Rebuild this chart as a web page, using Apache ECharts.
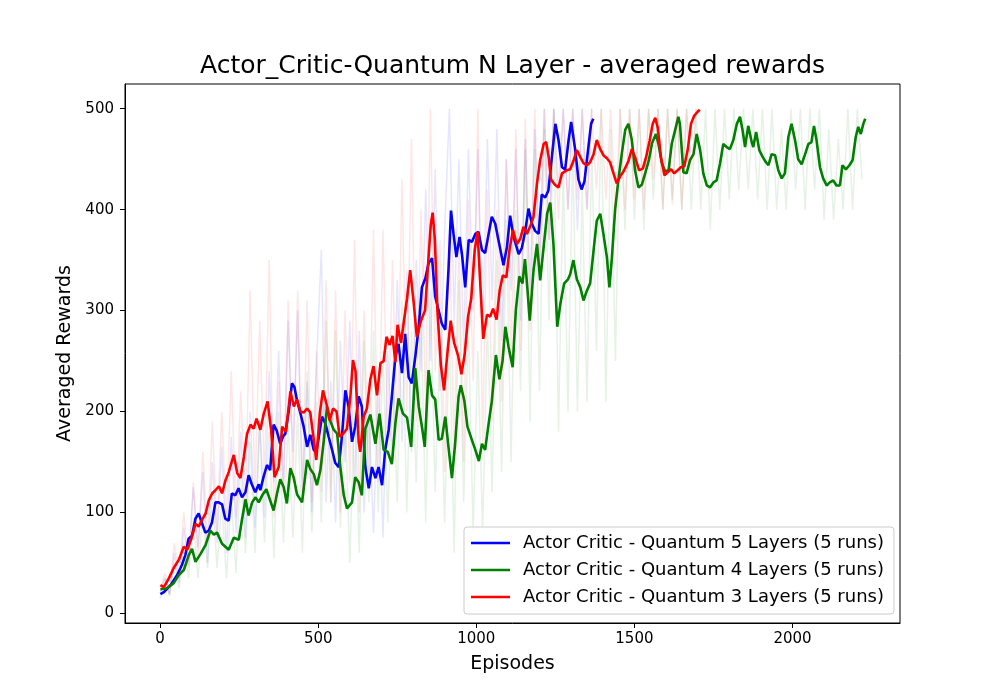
<!DOCTYPE html>
<html>
<head>
<meta charset="utf-8">
<title>Actor_Critic-Quantum N Layer - averaged rewards</title>
<script src="https://cdn.jsdelivr.net/npm/echarts@6/dist/echarts.min.js"></script>
<style>
  html, body { margin: 0; padding: 0; background: #fff; }
  #main { width: 1000px; height: 700px; }
</style>
</head>
<body>
<div id="main"></div>
<script>
// series names (legend)
var names = [
	'Actor Critic - Quantum 5 Layers (5 runs)',
	'Actor Critic - Quantum 4 Layers (5 runs)',
	'Actor Critic - Quantum 3 Layers (5 runs)'
];

var xTicks = [0, 500, 1000, 1500, 2000];
var yTicks = [0, 100, 200, 300, 400, 500];

// smoothed rewards, [episode, reward]
var blueMain = [
	[1,19],[12,21],[33,28],[54,38],[69,48],[80,58],[90,74],[101,77],[112,94],[122,99],[133,89],[143,80],
	[154,82],[164,90],[175,110],[185,110],[196,108],[206,94],[217,92],[227,119],[238,117],[248,124],[259,115],
	[270,120],[280,137],[290,128],[301,120],[312,128],[317,122],[327,135],[338,147],[348,142],[359,187],[369,181],
	[380,168],[390,176],[396,178],[407,201],[417,228],[425,224],[433,211],[444,198],[454,185],[465,165],[475,177],
	[486,162],[494,160],[502,175],[512,195],[523,188],[533,175],[544,162],[554,149],[565,145],[575,175],[586,221],
	[596,205],[607,170],[617,185],[628,215],[638,205],[649,145],[660,124],[670,145],[681,134],[691,145],[702,127],
	[712,162],[723,182],[733,215],[744,254],[754,267],[765,238],[775,277],[786,234],[796,228],[807,254],[818,284],
	[828,323],[839,332],[849,347],[860,352],[870,314],[881,300],[891,287],[902,281],[912,340],[920,399],[928,376],
	[937,353],[947,373],[955,355],[965,323],[976,370],[986,368],[997,376],[1007,378],[1018,360],[1028,357],[1039,376],
	[1049,393],[1060,386],[1070,370],[1086,345],[1097,363],[1107,394],[1118,373],[1134,356],[1144,362],[1155,379],
	[1165,401],[1176,386],[1186,379],[1197,376],[1207,415],[1218,412],[1228,419],[1239,452],[1250,485],[1260,469],
	[1271,442],[1281,440],[1292,469],[1300,487],[1313,459],[1323,430],[1333,420],[1342,428],[1352,455],[1363,485],
	[1370,490]
];

var greenMain = [
	[1,24],[22,25],[43,30],[59,38],[75,43],[91,58],[101,64],[112,51],[128,59],[144,68],[159,82],[170,78],[180,80],
	[196,69],[217,63],[233,75],[249,73],[259,93],[270,113],[280,97],[291,110],[302,115],[312,110],[323,117],[336,123],
	[347,113],[359,102],[370,119],[380,133],[391,125],[401,109],[412,144],[423,134],[433,118],[449,110],[465,152],
	[475,143],[486,138],[496,127],[507,142],[518,172],[528,205],[539,190],[549,182],[560,178],[570,145],[581,117],
	[591,104],[607,110],[617,135],[628,130],[638,117],[649,183],[665,197],[681,168],[694,198],[707,162],[720,160],
	[733,148],[744,188],[754,213],[768,198],[781,194],[794,165],[807,243],[818,205],[828,185],[837,165],[849,241],
	[860,216],[870,212],[881,172],[891,173],[902,195],[912,165],[923,134],[933,168],[944,215],[951,226],[962,211],
	[972,185],[986,172],[997,162],[1008,151],[1018,168],[1028,162],[1039,188],[1049,210],[1062,256],[1073,232],
	[1083,250],[1092,284],[1102,264],[1115,244],[1125,300],[1136,334],[1146,327],[1154,351],[1162,320],[1169,290],
	[1181,340],[1192,366],[1202,330],[1214,366],[1224,396],[1234,407],[1244,366],[1256,284],[1266,307],[1278,327],
	[1290,331],[1297,336],[1307,350],[1318,331],[1329,323],[1339,310],[1350,320],[1360,327],[1371,360],[1381,389],
	[1392,396],[1402,376],[1413,353],[1421,323],[1429,353],[1439,400],[1450,431],[1460,455],[1471,479],[1481,485],
	[1492,469],[1502,439],[1513,422],[1524,425],[1534,436],[1545,448],[1556,466],[1568,475],[1576,465],[1587,446],
	[1597,438],[1608,439],[1618,465],[1629,479],[1639,492],[1644,485],[1650,459],[1655,437],[1665,436],[1676,449],
	[1687,455],[1697,475],[1708,459],[1718,436],[1729,424],[1739,422],[1750,427],[1760,429],[1771,446],[1781,465],
	[1792,462],[1802,460],[1813,469],[1824,485],[1834,492],[1842,479],[1850,462],[1860,483],[1871,467],[1876,462],
	[1885,477],[1895,459],[1906,452],[1916,447],[1924,444],[1934,455],[1945,454],[1955,439],[1966,431],[1976,436],
	[1987,472],[1997,485],[2008,469],[2018,450],[2029,445],[2039,454],[2050,465],[2060,467],[2068,483],[2076,469],
	[2087,442],[2097,431],[2108,424],[2118,427],[2129,429],[2139,424],[2150,424],[2158,444],[2169,440],[2180,444],
	[2190,449],[2200,472],[2208,482],[2216,475],[2224,485],[2230,490]
];

var redMain = [
	[1,28],[12,26],[28,35],[43,45],[59,53],[75,66],[86,63],[100,75],[112,89],[122,86],[133,93],[144,99],[154,112],
	[165,119],[175,122],[186,126],[196,119],[207,132],[217,140],[233,157],[244,139],[254,134],[265,155],[275,178],
	[286,187],[296,183],[305,193],[317,182],[328,198],[340,210],[351,182],[362,135],[375,145],[386,185],[398,180],
	[412,220],[423,205],[433,212],[444,200],[454,199],[465,203],[475,199],[486,172],[494,152],[505,198],[515,221],
	[526,208],[536,191],[547,203],[558,200],[568,175],[579,178],[591,183],[602,216],[610,251],[618,240],[628,170],
	[633,160],[644,195],[654,203],[665,232],[675,245],[686,216],[697,248],[707,250],[716,274],[726,266],[735,275],
	[744,249],[751,286],[762,268],[770,287],[781,312],[791,340],[802,308],[812,274],[825,290],[838,300],[849,353],
	[856,385],[862,397],[869,370],[877,300],[888,246],[898,221],[908,256],[919,290],[930,268],[942,256],[953,237],
	[963,256],[974,294],[984,312],[995,360],[1004,378],[1012,330],[1022,272],[1034,296],[1044,294],[1053,302],
	[1064,291],[1074,320],[1084,335],[1095,333],[1105,360],[1116,380],[1128,366],[1139,371],[1149,383],[1160,376],
	[1170,383],[1181,393],[1192,426],[1202,449],[1213,465],[1221,467],[1229,452],[1236,430],[1248,425],[1260,422],
	[1271,436],[1286,439],[1297,440],[1308,449],[1318,459],[1329,452],[1339,446],[1350,444],[1360,447],[1371,455],
	[1381,469],[1392,460],[1402,454],[1413,451],[1423,447],[1434,436],[1444,426],[1455,433],[1466,438],[1481,448],
	[1492,460],[1502,452],[1515,439],[1527,441],[1537,452],[1548,468],[1558,485],[1566,491],[1574,481],[1584,452],
	[1595,434],[1605,437],[1616,440],[1626,436],[1637,439],[1647,442],[1658,443],[1669,460],[1679,485],[1689,493],
	[1700,497],[1707,499]
];

// faint raw rewards, one value every rawStep episodes
var rawStep = 15;
var blueRaw = [
	15,35,18,60,30,85,48,125,65,140,50,150,70,165,60,175,80,180,75,200,85,190,95,240,130,260,120,290,160,300,
	120,230,100,250,360,110,230,90,270,150,290,120,280,100,200,80,230,75,260,150,330,170,340,160,350,240,420,250,
	440,220,380,500,290,450,260,460,300,460,280,470,310,480,270,450,320,460,290,470,320,480,340,500,370,500,420,
	500,400,500,380,500,400,500
];
var greenRaw = [
	20,35,18,50,25,70,35,95,35,100,45,120,45,110,35,115,40,150,60,170,60,190,70,180,55,200,70,190,75,200,
	60,240,80,210,90,290,110,280,85,200,50,210,60,270,110,280,100,260,90,250,110,310,100,280,130,300,90,320,
	120,270,90,280,60,330,110,290,80,260,80,290,120,350,140,390,150,400,220,460,190,460,220,480,290,500,180,
	440,200,460,200,420,210,460,260,500,210,480,250,500,380,500,390,500,380,500,410,500,400,500,410,500,400,
	500,400,500,400,500,380,500,400,500,410,500,420,500,420,500,410,500,400,500,400,480,400,500,420,500,400,
	500,420,500,390,480,390,470,400,500,400,500,430
];
var redRaw = [
	22,40,20,70,35,100,45,130,55,160,70,190,80,200,90,240,95,220,110,320,120,290,130,350,95,230,120,310,130,320,
	120,310,110,260,120,330,110,320,100,300,130,370,100,300,140,380,130,380,170,350,180,430,200,470,190,400,200,
	500,240,370,140,380,160,370,150,410,230,500,170,420,190,400,210,450,250,480,260,490,280,500,340,500,370,500,
	390,500,400,500,410,500,400,500,420,500,410,500,390,500,400,500,410,500,400,500,430,500,400,500,405,500,400,
	500,440,500
];

function rawPairs(values) {
	return values.map(function (v, i) { return [i * rawStep, v]; });
}

var font = 'DejaVu Sans';

function mainSeries(name, color, data) {
	return {
		name: name,
		type: 'line',
		data: data,
		showSymbol: false,
		lineStyle: { color: color, width: 2.6 },
		itemStyle: { color: color },
		silent: true
	};
}

function rawSeries(name, color, data) {
	return {
		name: name,
		type: 'line',
		data: data,
		showSymbol: false,
		lineStyle: { color: color, width: 1.5, opacity: 0.1 },
		itemStyle: { color: color },
		silent: true
	};
}

// plain numbers, no thousands separator
function plain(v) {
	return String(v);
}

var myChart = echarts.init(document.getElementById('main'), null, { renderer: 'canvas' });

var option = {
	animation: false,
	backgroundColor: '#ffffff',
	textStyle: { fontFamily: font },
	title: {
		text: 'Actor_Critic-Quantum N Layer - averaged rewards',
		left: 200,
		top: 54,
		padding: 0,
		textStyle: { fontFamily: font, fontSize: 25, fontWeight: 'normal', color: '#000' }
	},
	legend: {
		data: names,
		orient: 'vertical',
		left: 464,
		top: 527,
		padding: [7, 10, 8, 7],
		itemGap: 9,
		itemWidth: 39,
		itemHeight: 2.5,
		icon: 'rect',
		backgroundColor: 'rgba(255,255,255,0.8)',
		borderColor: '#cccccc',
		borderWidth: 1,
		borderRadius: 3,
		textStyle: { fontFamily: font, fontSize: 18, color: '#000', padding: [0, 0, 0, 8] }
	},
	grid: {
		left: 125, right: 100, top: 84, bottom: 77,
		show: true,
		borderColor: '#000',
		borderWidth: 1,
		backgroundColor: 'transparent'
	},
	xAxis: {
		type: 'value',
		min: -111,
		max: 2340,
		name: 'Episodes',
		nameLocation: 'middle',
		nameGap: 32,
		nameTextStyle: { fontFamily: font, fontSize: 19, color: '#000' },
		axisLine: { show: true, onZero: false, lineStyle: { color: '#000', width: 1 } },
		axisTick: { show: true, inside: false, length: 5, customValues: xTicks, lineStyle: { color: '#000', width: 1 } },
		axisLabel: { customValues: xTicks, formatter: plain, margin: 9, fontFamily: font, fontSize: 15, color: '#000' },
		splitLine: { show: false }
	},
	yAxis: {
		type: 'value',
		min: -9.5,
		max: 524.5,
		name: 'Averaged Rewards',
		nameLocation: 'middle',
		nameGap: 47,
		nameRotate: 90,
		nameTextStyle: { fontFamily: font, fontSize: 19, color: '#000' },
		axisLine: { show: true, onZero: false, lineStyle: { color: '#000', width: 1 } },
		axisTick: { show: true, inside: false, length: 5, customValues: yTicks, lineStyle: { color: '#000', width: 1 } },
		axisLabel: { customValues: yTicks, formatter: plain, margin: 11, fontFamily: font, fontSize: 15, color: '#000' },
		splitLine: { show: false }
	},
	series: [
		rawSeries('raw5', '#0000ff', rawPairs(blueRaw)),
		mainSeries(names[0], '#0000ff', blueMain),
		rawSeries('raw4', '#008000', rawPairs(greenRaw)),
		mainSeries(names[1], '#008000', greenMain),
		rawSeries('raw3', '#ff0000', rawPairs(redRaw)),
		mainSeries(names[2], '#ff0000', redMain)
	]
};

myChart.setOption(option);
</script>
</body>
</html>
